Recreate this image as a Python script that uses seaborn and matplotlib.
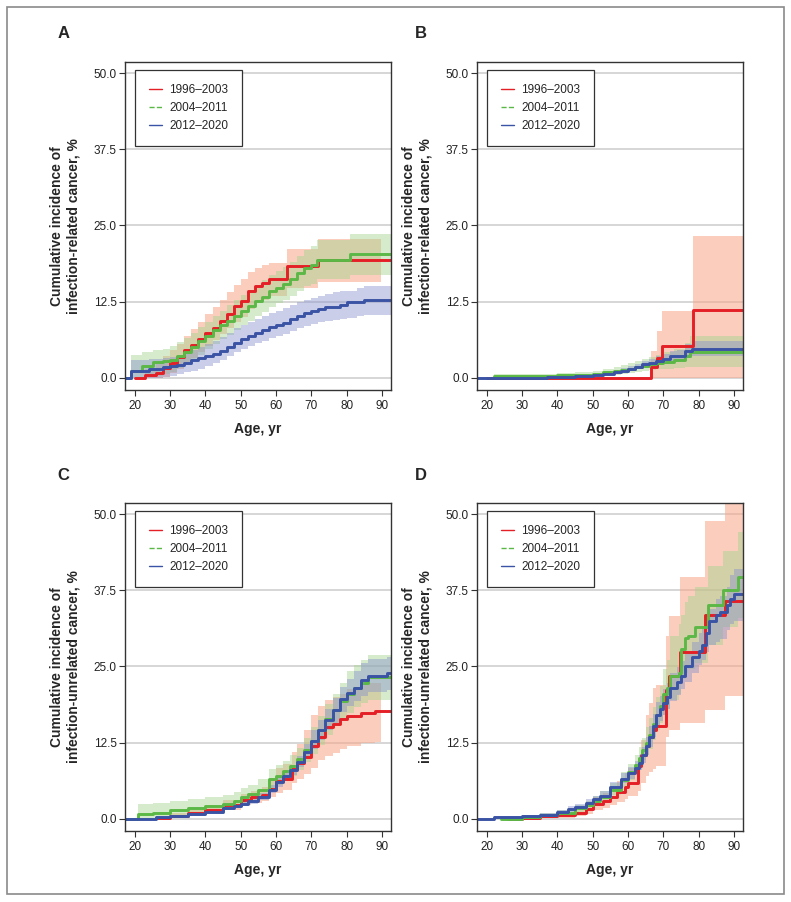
import numpy as np
import matplotlib
matplotlib.use('Agg')
import matplotlib.pyplot as plt
import seaborn as sns
from matplotlib.lines import Line2D
from matplotlib.patches import Rectangle

nan = float('nan')

# periode kalender
periods = ['1996–2003', '2004–2011', '2012–2020']
colors = ['#e41f26', '#5bb846', '#3a53a4']
fills = ['#f7a486', '#a3d48e', '#8a93cc']
alphas = [0.55, 0.45, 0.45]

ylab_rel = 'Cumulative incidence of\ninfection-related cancer, %'
ylab_unrel = 'Cumulative incidence of\ninfection-unrelated cancer, %'

# ---- panel A: infection-related ----
a_red_age = [20, 23, 26, 28, 30, 32, 34, 36, 38, 40, 42, 44, 46, 48, 50, 52, 54, 56, 58, 63, 72, 89.7, 92.5]
a_red_est = [0, 0.4, 0.8, 1.6, 2.5, 3.4, 4.5, 5.4, 6.4, 7.4, 8.2, 9.3, 10.4, 11.8, 12.6, 14.2, 15.0, 15.6, 16.2, 18.3, 19.4, 19.4, 19.4]
a_red_lo = [nan, 0, 0, 0.2, 0.8, 1.5, 2.3, 3.2, 4.2, 5.2, 6.2, 7.2, 8.2, 9.2, 10.0, 11.3, 12.2, 12.8, 13.5, 14.8, 15.8, 15.8, nan]
a_red_hi = [nan, 1.5, 2.5, 3.5, 4.5, 5.5, 6.8, 8.0, 9.2, 10.5, 11.7, 12.8, 14.0, 15.3, 16.2, 17.3, 18.0, 18.5, 18.8, 21.2, 22.8, 22.8, nan]

a_grn_age = [17.2, 19, 22, 25, 28, 30, 32, 34, 36, 38, 40, 42, 44, 46, 48, 50, 52, 54, 56, 58, 60, 62, 64, 66, 68, 70, 71.5, 81, 92.5]
a_grn_est = [0, 1.2, 2.0, 2.6, 2.7, 3.0, 3.6, 4.3, 5.1, 6.0, 6.9, 7.8, 8.6, 9.4, 10.2, 11.0, 11.8, 12.6, 13.3, 14.2, 14.8, 15.4, 16.2, 17.2, 18.0, 18.5, 19.4, 20.3, 20.3]
a_grn_lo = [nan, 0, 0.1, 0.3, 0.6, 1.0, 1.6, 2.2, 3.0, 3.8, 4.7, 5.5, 6.3, 7.1, 7.9, 8.7, 9.4, 10.1, 10.8, 11.6, 12.2, 12.8, 13.5, 14.3, 15.0, 15.4, 16.2, 16.9, 16.9]
a_grn_hi = [nan, 3.7, 4.2, 4.6, 4.8, 5.2, 5.8, 6.6, 7.4, 8.3, 9.2, 10.2, 11.0, 11.9, 12.8, 13.6, 14.4, 15.2, 16.0, 16.8, 17.5, 18.2, 19.0, 20.0, 21.0, 21.6, 22.6, 23.6, 23.6]

a_blu_age = [17.2, 19, 24, 28, 30, 32, 34, 36, 38, 40, 42, 44, 46, 48, 50, 52, 54, 56, 58, 60, 62, 64, 66, 68, 70, 72, 74, 76, 78, 80, 83, 85, 92.5]
a_blu_est = [0, 1.2, 1.4, 1.7, 1.9, 2.1, 2.5, 2.9, 3.2, 3.5, 3.9, 4.4, 5.0, 5.7, 6.4, 6.9, 7.3, 7.8, 8.3, 8.7, 9.0, 9.7, 10.2, 10.6, 10.9, 11.3, 11.6, 11.7, 12.0, 12.4, 12.5, 12.7, 12.7]
a_blu_lo = [nan, 0, 0, 0.1, 0.3, 0.6, 0.9, 1.2, 1.5, 2.0, 2.5, 3.0, 3.6, 4.2, 4.7, 5.2, 5.7, 6.1, 6.5, 6.8, 7.2, 7.7, 8.2, 8.5, 8.8, 9.1, 9.3, 9.5, 9.7, 9.8, 10.1, 10.3, 10.3]
a_blu_hi = [nan, 3.0, 3.1, 3.2, 3.4, 3.7, 4.2, 4.6, 5.0, 5.5, 6.1, 6.7, 7.4, 8.1, 8.7, 9.2, 9.7, 10.1, 10.6, 11.0, 11.4, 11.9, 12.4, 12.8, 13.1, 13.4, 13.7, 14.0, 14.2, 14.3, 14.7, 15.0, 15.0]

# ---- panel B: infection-related ----
b_red_age = [20, 66.5, 68.3, 69.7, 78.5, 92.5]
b_red_est = [0, 1.7, 3.3, 5.2, 11.1, 11.1]
b_red_lo = [0, 0, 0, 0, 0, 0]
b_red_hi = [0, 4.4, 7.7, 10.9, 23.3, 23.3]

b_grn_age = [22, 30, 40, 45, 50, 53, 56, 58, 60, 62, 64, 66, 68, 70, 73, 76, 77.5, 92.5]
b_grn_est = [0.3, 0.3, 0.4, 0.5, 0.7, 0.9, 1.1, 1.3, 1.5, 1.7, 2.0, 2.2, 2.4, 2.6, 2.9, 3.5, 4.3, 4.3]
b_grn_lo = [0, 0.05, 0.1, 0.2, 0.3, 0.4, 0.5, 0.6, 0.8, 1.0, 1.1, 1.3, 1.4, 1.5, 1.6, 1.7, 1.8, 1.8]
b_grn_hi = [0.6, 0.6, 0.8, 1.0, 1.2, 1.5, 1.8, 2.1, 2.4, 2.7, 3.1, 3.4, 3.8, 4.2, 4.8, 5.7, 6.8, 6.8]

b_blu_age = [17.2, 37, 40, 45, 50, 53, 56, 58, 60, 62, 64, 66, 68, 70, 72, 74, 76, 78, 92.5]
b_blu_est = [0, 0.1, 0.2, 0.3, 0.5, 0.7, 0.9, 1.2, 1.5, 1.8, 2.2, 2.5, 2.8, 3.1, 3.5, 3.6, 4.4, 4.8, 4.8]
b_blu_lo = [0, 0, 0.05, 0.1, 0.3, 0.4, 0.6, 0.8, 1.1, 1.4, 1.7, 1.9, 2.1, 2.3, 2.6, 2.7, 3.2, 3.5, 3.5]
b_blu_hi = [0, 0.2, 0.3, 0.5, 0.7, 1.0, 1.2, 1.6, 1.9, 2.3, 2.7, 3.1, 3.5, 3.9, 4.4, 4.6, 5.6, 6.0, 6.0]

# ---- panel C: infection-unrelated ----
c_red_age = [26, 30, 35, 40, 45, 50, 53, 56, 58, 60, 62, 64.5, 66, 68, 70, 72, 74, 76, 78, 80, 84, 88, 89.7, 92.5]
c_red_est = [0.2, 0.5, 1.0, 1.5, 2.2, 3.1, 3.5, 3.9, 4.9, 6.2, 6.6, 8.2, 9.2, 10.2, 12.0, 13.5, 15.0, 15.5, 16.3, 16.9, 17.3, 17.7, 17.7, 17.7]
c_red_lo = [0, 0.2, 0.5, 0.9, 1.4, 2.2, 2.6, 3.0, 3.6, 4.3, 4.7, 5.8, 6.6, 7.4, 8.4, 9.6, 10.3, 10.8, 11.4, 12.0, 12.4, 12.6, 12.6, nan]
c_red_hi = [0.5, 0.9, 1.6, 2.3, 3.1, 4.1, 4.6, 5.2, 6.6, 8.3, 9.0, 11.0, 12.2, 14.5, 17.0, 18.5, 19.5, 20.0, 20.5, 21.3, 22.2, 22.3, 22.3, nan]

c_grn_age = [17.2, 21, 25, 30, 35, 40, 45, 48, 50, 52, 55, 58, 60, 62, 64, 66, 68, 70, 72, 74, 76, 78, 80, 82, 84, 86, 92.5]
c_grn_est = [0, 0.8, 1.0, 1.4, 1.7, 2.1, 2.5, 3.0, 3.5, 4.0, 4.8, 6.5, 7.0, 7.8, 8.6, 9.8, 11.3, 12.8, 14.5, 16.3, 17.8, 19.3, 20.5, 21.5, 22.3, 23.2, 23.2]
c_grn_lo = [nan, 0, 0.1, 0.3, 0.6, 1.0, 1.5, 1.9, 2.3, 2.8, 3.5, 4.8, 5.5, 6.3, 7.0, 8.0, 9.3, 10.6, 12.1, 13.8, 15.2, 16.5, 17.4, 18.3, 19.0, 19.5, 19.5]
c_grn_hi = [nan, 2.4, 2.6, 2.9, 3.2, 3.5, 3.9, 4.4, 5.0, 5.5, 6.5, 8.2, 8.8, 9.5, 10.4, 11.6, 13.2, 15.0, 16.9, 18.8, 20.4, 22.3, 24.2, 25.3, 26.0, 26.8, 27.0]

c_blu_age = [17.2, 26, 30, 35, 40, 45, 48, 50, 52, 55, 58, 60, 62, 64, 66, 68, 70, 72, 74, 76, 78, 80, 82, 84, 86, 91.5, 92.5]
c_blu_est = [0, 0.3, 0.4, 0.8, 1.2, 1.7, 2.1, 2.5, 3.0, 3.6, 4.8, 6.0, 7.0, 8.0, 9.3, 11.0, 12.8, 14.5, 16.2, 17.8, 19.6, 20.6, 21.5, 22.8, 23.4, 24.0, 24.0]
c_blu_lo = [nan, 0, 0.2, 0.5, 0.9, 1.4, 1.7, 2.1, 2.5, 3.1, 4.2, 5.3, 6.3, 7.2, 8.5, 10.0, 11.5, 13.0, 14.5, 15.8, 17.5, 18.5, 19.3, 20.2, 20.8, 21.2, 21.2]
c_blu_hi = [nan, 0.5, 0.6, 1.1, 1.6, 2.1, 2.5, 3.0, 3.5, 4.2, 5.5, 7.0, 7.8, 8.9, 10.3, 12.2, 14.5, 16.2, 18.0, 19.8, 21.7, 23.0, 24.2, 25.5, 26.2, 26.5, 26.5]

# ---- panel D: infection-unrelated ----
d_red_age = [26, 30, 35, 40, 45, 48, 50, 53, 55, 57, 59, 60, 62.8, 63.8, 65, 66, 67, 68, 70.7, 71.5, 74.6, 81.7, 87.5, 92.5]
d_red_est = [0, 0.2, 0.4, 0.6, 1.0, 1.6, 2.5, 3.0, 3.6, 4.4, 5.2, 5.9, 8.6, 10.5, 12.0, 13.5, 14.5, 15.3, 21.2, 23.5, 27.3, 33.4, 35.8, 35.8]
d_red_lo = [0, 0, 0.1, 0.2, 0.4, 0.8, 1.5, 1.8, 2.2, 2.7, 3.3, 3.7, 4.5, 5.8, 7.0, 7.6, 8.2, 8.7, 13.5, 14.5, 15.7, 17.9, 20.2, 20.2]
d_red_hi = [0.3, 0.5, 0.8, 1.1, 1.7, 2.6, 3.6, 4.2, 5.1, 6.2, 7.5, 8.3, 9.2, 13.0, 17.0, 19.0, 21.5, 22.0, 30.0, 33.3, 39.6, 48.9, 51.6, 51.6]

d_grn_age = [24, 30, 35, 40, 45, 48, 50, 52, 55, 58, 60, 62, 63, 64, 65, 66, 67, 68, 69, 70, 71, 71.8, 74.3, 75.1, 76, 77, 79, 82.7, 87, 91.2, 92.5]
d_grn_est = [0, 0.3, 0.6, 1.0, 1.7, 2.3, 3.0, 3.6, 4.8, 6.4, 7.6, 8.8, 10.0, 11.3, 12.5, 13.8, 15.5, 17.0, 18.5, 20.5, 21.5, 23.4, 24.0, 27.8, 29.7, 30.0, 31.4, 35.0, 37.5, 39.7, 39.7]
d_grn_lo = [0, 0.1, 0.3, 0.7, 1.2, 1.7, 2.2, 2.8, 3.9, 5.3, 6.3, 7.5, 8.5, 9.6, 10.5, 11.5, 13.0, 14.5, 15.8, 17.0, 18.0, 19.5, 20.5, 23.0, 24.0, 24.5, 25.5, 28.5, 31.5, 33.0, 33.0]
d_grn_hi = [0.3, 0.6, 1.0, 1.4, 2.2, 2.9, 3.8, 4.5, 5.8, 7.7, 9.0, 10.4, 11.7, 13.2, 15.0, 16.5, 18.3, 20.0, 21.8, 24.5, 26.0, 30.0, 32.0, 33.5, 35.5, 36.5, 38.0, 41.5, 44.0, 47.0, 47.0]

d_blu_age = [17.2, 22, 30, 35, 40, 43, 45, 48, 50, 52, 55, 58, 60, 62, 63, 64, 65, 66, 67, 68, 69, 70, 71, 72, 74, 75, 76, 78, 80, 81, 82, 83, 85, 86, 88, 89, 90, 92.5]
d_blu_est = [0, 0.3, 0.4, 0.7, 1.1, 1.6, 2.0, 2.6, 3.2, 3.8, 5.2, 6.6, 7.5, 8.4, 9.2, 10.5, 12.0, 13.5, 15.3, 17.0, 18.0, 19.0, 20.0, 21.5, 22.5, 23.5, 25.0, 26.5, 27.5, 28.5, 30.5, 32.5, 33.5, 34.0, 35.0, 36.0, 36.8, 36.8]
d_blu_lo = [nan, 0.1, 0.2, 0.5, 0.8, 1.2, 1.6, 2.1, 2.6, 3.2, 4.5, 5.8, 6.5, 7.3, 8.0, 9.2, 10.5, 11.8, 13.5, 15.0, 16.0, 17.0, 18.0, 19.3, 20.3, 21.3, 22.5, 24.0, 25.2, 26.0, 27.3, 28.5, 29.0, 29.5, 31.0, 32.0, 32.5, 32.5]
d_blu_hi = [nan, 0.5, 0.6, 1.0, 1.5, 2.1, 2.5, 3.2, 3.8, 4.5, 6.0, 7.5, 8.5, 9.5, 10.4, 11.8, 13.5, 15.2, 17.2, 19.2, 20.2, 21.3, 22.3, 23.9, 24.9, 25.9, 27.5, 29.0, 30.5, 31.2, 32.8, 34.5, 36.0, 36.5, 38.0, 40.0, 41.0, 41.0]

panels = [
    ('A', ylab_rel, [(a_red_age, a_red_est, a_red_lo, a_red_hi),
                     (a_grn_age, a_grn_est, a_grn_lo, a_grn_hi),
                     (a_blu_age, a_blu_est, a_blu_lo, a_blu_hi)]),
    ('B', ylab_rel, [(b_red_age, b_red_est, b_red_lo, b_red_hi),
                     (b_grn_age, b_grn_est, b_grn_lo, b_grn_hi),
                     (b_blu_age, b_blu_est, b_blu_lo, b_blu_hi)]),
    ('C', ylab_unrel, [(c_red_age, c_red_est, c_red_lo, c_red_hi),
                       (c_grn_age, c_grn_est, c_grn_lo, c_grn_hi),
                       (c_blu_age, c_blu_est, c_blu_lo, c_blu_hi)]),
    ('D', ylab_unrel, [(d_red_age, d_red_est, d_red_lo, d_red_hi),
                       (d_grn_age, d_grn_est, d_grn_lo, d_grn_hi),
                       (d_blu_age, d_blu_est, d_blu_lo, d_blu_hi)]),
]

xticks = [20, 30, 40, 50, 60, 70, 80, 90]
yticks = [0, 12.5, 25, 37.5, 50]

sns.set_style('white')
plt.rcParams['font.family'] = ['Liberation Sans', 'DejaVu Sans']

fig = plt.figure(figsize=(7.91, 9.02), dpi=100)
fig.add_artist(Rectangle((0.0088, 0.0089), 0.982, 0.983, transform=fig.transFigure,
                         fill=False, ec='#8a8a8a', lw=1.2))

lefts = [0.158, 0.603]
bottoms = [0.5676, 0.0787]

for i, (letter, ylab, series) in enumerate(panels):
    col, row = i % 2, i // 2
    ax = fig.add_axes([lefts[col], bottoms[row], 0.336, 0.3636])

    #pita kepercayaan
    for (age, est, lo, hi), fc, a in zip(series, fills, alphas):
        ax.fill_between(age, np.array(lo, float), np.array(hi, float), step='post',
                        color=fc, alpha=a, lw=0)
    #garis tangga
    for (age, est, lo, hi), c in zip(series, colors):
        sns.lineplot(x=age, y=est, drawstyle='steps-post', color=c, linewidth=2.1,
                     estimator=None, sort=False, ax=ax)

    ax.set_xlim(17.2, 92.5)
    ax.set_ylim(-2.0, 51.8)
    ax.set_xticks(xticks)
    ax.set_yticks(yticks)
    ax.set_yticklabels(['%.1f' % v for v in yticks])
    ax.yaxis.grid(True, color='#cfcfcf', lw=1.2)
    ax.set_axisbelow(True)
    ax.tick_params(axis='both', direction='out', length=4.5, width=0.8,
                   labelsize=8.5, labelcolor='#222', color='#333',
                   bottom=True, left=True)
    ax.tick_params(axis='x', pad=2.5)
    ax.tick_params(axis='y', pad=1.5)
    for s in ax.spines.values():
        s.set_visible(True)
        s.set_color('#333')
        s.set_linewidth(1.0)

    ax.set_ylabel(ylab, fontsize=10, fontweight='bold')
    ax.yaxis.set_label_coords(-0.169, 0.5)
    ax.set_xlabel('Age, yr', fontsize=10, fontweight='bold')
    ax.xaxis.set_label_coords(0.5, -0.097)

    handles = [Line2D([], [], color=c, lw=1, ls=ls) for c, ls in zip(colors, ['-', '--', '-'])]
    leg = ax.legend(handles, periods, loc='upper left', bbox_to_anchor=(0.0376, 0.9756),
                    borderaxespad=0, frameon=True, fancybox=False, edgecolor='#333',
                    framealpha=1, fontsize=8.5, handlelength=1.1, handletextpad=0.6,
                    labelspacing=0.5, borderpad=1.2)
    leg.get_frame().set_linewidth(0.9)

    fig.text([0.08, 0.532][col], [0.963, 0.473][row], letter, fontsize=12,
             fontweight='bold', ha='center', va='center')

fig.savefig('out.png', dpi=100)
